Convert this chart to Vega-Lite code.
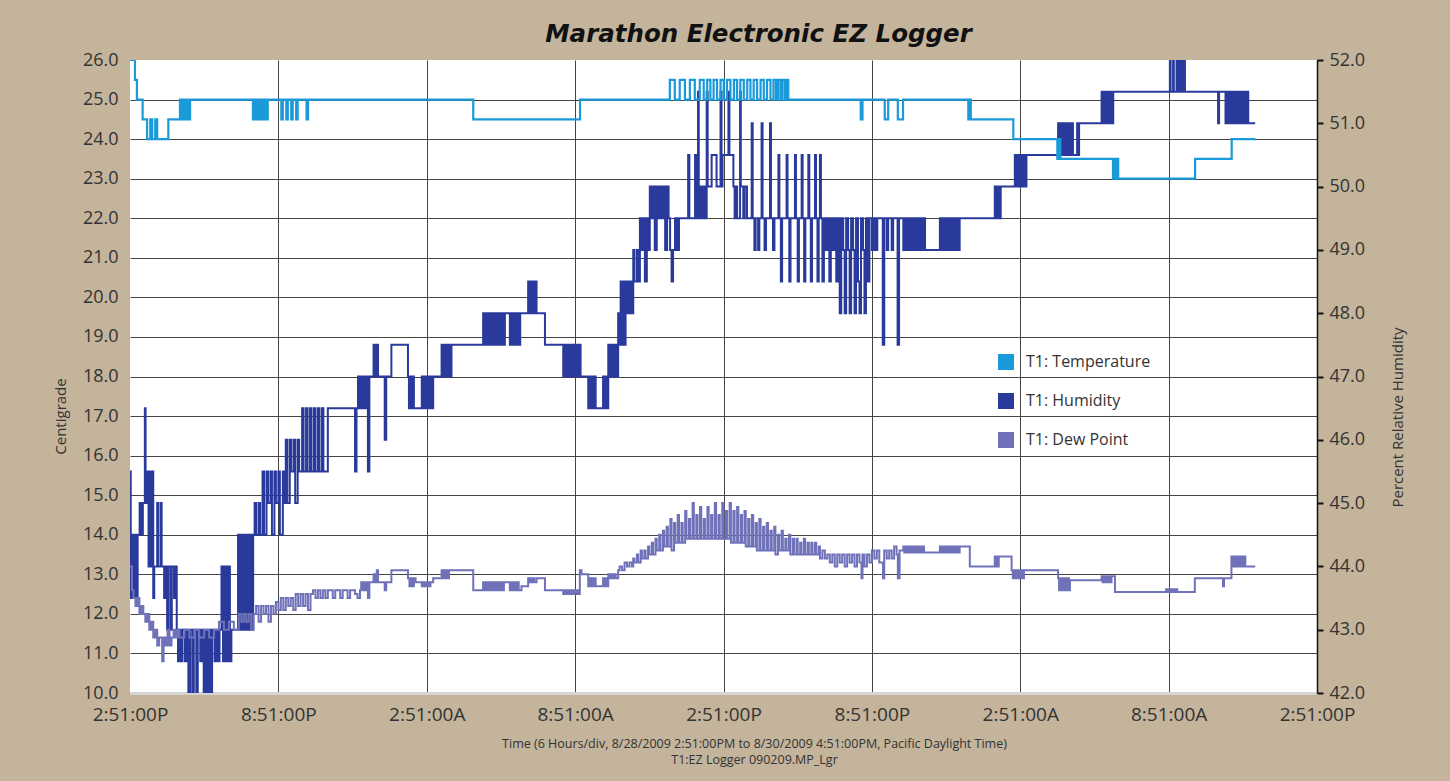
{
"$schema": "https://vega.github.io/schema/vega-lite/v6.json",
"width": 1187, "height": 633,
"autosize": {"type": "none"},
"padding": {"left": 130, "top": 60, "right": 133, "bottom": 88},
"background": "#C3B49B",
"config": {
  "view": {"fill": "white", "stroke": null},
  "font": "Open Sans",
  "axis": {"labelFont": "Open Sans", "titleFont": "Open Sans", "labelColor": "#333333", "titleColor": "#333333", "titleFontWeight": "normal"}
},
"title": {"text": "Marathon Electronic EZ Logger", "font": "DejaVu Sans", "fontSize": 24.5, "fontWeight": "bold", "fontStyle": "italic", "color": "#111111", "anchor": "middle", "dx": 35, "offset": 4},
"datasets": {
"temp": [{"h":0,"v":26},{"h":0.2,"v":25.5},{"h":0.28,"v":25},{"h":0.51,"v":24.5},{"h":0.69,"v":24},{"h":0.82,"v":24.5},{"h":0.9,"v":24},{"h":1.02,"v":24.5},{"h":1.1,"v":24},{"h":1.55,"v":24.5},{"h":2.02,"v":25},{"h":2.08,"v":24.5},{"h":2.16,"v":25},{"h":2.24,"v":24.5},{"h":2.32,"v":25},{"h":2.38,"v":24.5},{"h":2.43,"v":25},{"h":4.97,"v":24.5},{"h":5.03,"v":25},{"h":5.11,"v":24.5},{"h":5.17,"v":25},{"h":5.24,"v":24.5},{"h":5.3,"v":25},{"h":5.38,"v":24.5},{"h":5.44,"v":25},{"h":5.51,"v":24.5},{"h":5.57,"v":25},{"h":6.12,"v":24.5},{"h":6.18,"v":25},{"h":6.32,"v":24.5},{"h":6.38,"v":25},{"h":6.52,"v":24.5},{"h":6.58,"v":25},{"h":6.72,"v":24.5},{"h":6.78,"v":25},{"h":7.14,"v":24.5},{"h":7.2,"v":25},{"h":13.88,"v":24.5},{"h":18.2,"v":25},{"h":21.83,"v":25.5},{"h":22.03,"v":25},{"h":22.23,"v":25.5},{"h":22.44,"v":25},{"h":22.64,"v":25.5},{"h":22.84,"v":25},{"h":23.04,"v":25.5},{"h":23.2,"v":25},{"h":23.34,"v":25.5},{"h":23.47,"v":25},{"h":23.6,"v":25.5},{"h":23.74,"v":25},{"h":23.88,"v":25.5},{"h":24.01,"v":25},{"h":24.14,"v":25.5},{"h":24.28,"v":25},{"h":24.42,"v":25.5},{"h":24.55,"v":25},{"h":24.68,"v":25.5},{"h":24.82,"v":25},{"h":24.96,"v":25.5},{"h":25.09,"v":25},{"h":25.22,"v":25.5},{"h":25.36,"v":25},{"h":25.5,"v":25.5},{"h":25.63,"v":25},{"h":25.76,"v":25.5},{"h":25.9,"v":25},{"h":26.02,"v":25.5},{"h":26.12,"v":25},{"h":26.2,"v":25.5},{"h":26.3,"v":25},{"h":26.38,"v":25.5},{"h":26.48,"v":25},{"h":26.54,"v":25.5},{"h":26.62,"v":25},{"h":29.55,"v":24.5},{"h":29.62,"v":25},{"h":30.52,"v":24.5},{"h":30.66,"v":25},{"h":31.05,"v":24.5},{"h":31.26,"v":25},{"h":33.9,"v":24.5},{"h":33.95,"v":25},{"h":34.0,"v":24.5},{"h":35.72,"v":24},{"h":37.5,"v":23.5},{"h":37.56,"v":24},{"h":37.62,"v":23.5},{"h":39.75,"v":23},{"h":39.8,"v":23.5},{"h":39.86,"v":23},{"h":39.92,"v":23.5},{"h":39.96,"v":23},{"h":43.07,"v":23.5},{"h":44.55,"v":24},{"h":45.5,"v":24}],
"hum": [{"h":0,"v":45.5},{"h":0.03,"v":43.5},{"h":0.07,"v":44.5},{"h":0.11,"v":43.5},{"h":0.15,"v":44.5},{"h":0.19,"v":43.5},{"h":0.23,"v":44.5},{"h":0.27,"v":43.5},{"h":0.31,"v":44.5},{"h":0.39,"v":45},{"h":0.45,"v":44.5},{"h":0.52,"v":45},{"h":0.6,"v":46.5},{"h":0.63,"v":45},{"h":0.7,"v":45.5},{"h":0.75,"v":44},{"h":0.79,"v":45.5},{"h":0.83,"v":44},{"h":0.88,"v":45.5},{"h":0.94,"v":43.5},{"h":0.98,"v":44},{"h":1.1,"v":45},{"h":1.14,"v":44},{"h":1.24,"v":45},{"h":1.28,"v":44},{"h":1.38,"v":43.5},{"h":1.42,"v":44},{"h":1.5,"v":43},{"h":1.55,"v":44},{"h":1.64,"v":43},{"h":1.69,"v":44},{"h":1.78,"v":43.5},{"h":1.82,"v":44},{"h":1.89,"v":43},{"h":1.94,"v":42.5},{"h":1.99,"v":43},{"h":2.06,"v":42.5},{"h":2.12,"v":43},{"h":2.22,"v":42.5},{"h":2.28,"v":43},{"h":2.36,"v":42},{"h":2.43,"v":43},{"h":2.52,"v":42},{"h":2.58,"v":43},{"h":2.68,"v":42},{"h":2.74,"v":43},{"h":2.84,"v":42.5},{"h":2.9,"v":43},{"h":2.98,"v":42},{"h":3.04,"v":43},{"h":3.12,"v":42},{"h":3.18,"v":43},{"h":3.26,"v":42},{"h":3.32,"v":43},{"h":3.42,"v":42.5},{"h":3.48,"v":43},{"h":3.56,"v":42.5},{"h":3.62,"v":43},{"h":3.7,"v":44},{"h":3.76,"v":42.5},{"h":3.84,"v":44},{"h":3.9,"v":42.5},{"h":3.98,"v":44},{"h":4.04,"v":42.5},{"h":4.1,"v":43},{"h":4.37,"v":44.5},{"h":4.42,"v":43},{"h":4.5,"v":44.5},{"h":4.55,"v":43},{"h":4.63,"v":44.5},{"h":4.68,"v":43},{"h":4.76,"v":44.5},{"h":4.81,"v":43},{"h":4.89,"v":44.5},{"h":4.94,"v":43},{"h":4.98,"v":44.5},{"h":5.04,"v":45},{"h":5.1,"v":44.5},{"h":5.2,"v":45},{"h":5.26,"v":44.5},{"h":5.36,"v":45.5},{"h":5.42,"v":44.5},{"h":5.52,"v":45.5},{"h":5.58,"v":45},{"h":5.68,"v":45.5},{"h":5.74,"v":44.5},{"h":5.84,"v":45.5},{"h":5.9,"v":45},{"h":6.0,"v":45.5},{"h":6.06,"v":44.5},{"h":6.18,"v":45.5},{"h":6.24,"v":45},{"h":6.3,"v":46},{"h":6.36,"v":45},{"h":6.46,"v":46},{"h":6.52,"v":45.5},{"h":6.62,"v":46},{"h":6.68,"v":45},{"h":6.78,"v":46},{"h":6.84,"v":45.5},{"h":6.96,"v":46.5},{"h":7.02,"v":45.5},{"h":7.12,"v":46.5},{"h":7.18,"v":45.5},{"h":7.28,"v":46.5},{"h":7.34,"v":45.5},{"h":7.44,"v":46.5},{"h":7.5,"v":45.5},{"h":7.6,"v":46.5},{"h":7.66,"v":45.5},{"h":7.76,"v":46.5},{"h":7.82,"v":45.5},{"h":8.0,"v":46.5},{"h":9.1,"v":45.5},{"h":9.16,"v":46.5},{"h":9.22,"v":47},{"h":9.27,"v":46.5},{"h":9.33,"v":47},{"h":9.38,"v":46.5},{"h":9.44,"v":47},{"h":9.5,"v":46.5},{"h":9.56,"v":47},{"h":9.62,"v":45.5},{"h":9.68,"v":47},{"h":9.85,"v":47.5},{"h":9.9,"v":47},{"h":9.98,"v":47.5},{"h":10.03,"v":47},{"h":10.3,"v":46},{"h":10.36,"v":47},{"h":10.57,"v":47.5},{"h":11.24,"v":47},{"h":11.28,"v":46.5},{"h":11.33,"v":47},{"h":11.38,"v":46.5},{"h":11.43,"v":47},{"h":11.48,"v":46.5},{"h":11.8,"v":47},{"h":11.85,"v":46.5},{"h":11.9,"v":47},{"h":11.96,"v":46.5},{"h":12.02,"v":47},{"h":12.08,"v":46.5},{"h":12.14,"v":47},{"h":12.2,"v":46.5},{"h":12.26,"v":47},{"h":12.6,"v":47.5},{"h":12.65,"v":47},{"h":12.7,"v":47.5},{"h":12.75,"v":47},{"h":12.8,"v":47.5},{"h":12.85,"v":47},{"h":12.9,"v":47.5},{"h":12.95,"v":47},{"h":13.0,"v":47.5},{"h":14.28,"v":48},{"h":14.34,"v":47.5},{"h":14.4,"v":48},{"h":14.46,"v":47.5},{"h":14.52,"v":48},{"h":14.58,"v":47.5},{"h":14.64,"v":48},{"h":14.7,"v":47.5},{"h":14.76,"v":48},{"h":14.82,"v":47.5},{"h":14.88,"v":48},{"h":14.94,"v":47.5},{"h":15.0,"v":48},{"h":15.04,"v":47.5},{"h":15.08,"v":48},{"h":15.12,"v":47.5},{"h":15.16,"v":48},{"h":15.36,"v":47.5},{"h":15.42,"v":48},{"h":15.48,"v":47.5},{"h":15.54,"v":48},{"h":15.6,"v":47.5},{"h":15.66,"v":48},{"h":15.72,"v":47.5},{"h":15.78,"v":48},{"h":16.1,"v":48.5},{"h":16.15,"v":48},{"h":16.2,"v":48.5},{"h":16.25,"v":48},{"h":16.3,"v":48.5},{"h":16.35,"v":48},{"h":16.4,"v":48.5},{"h":16.44,"v":48},{"h":16.78,"v":47.5},{"h":17.52,"v":47},{"h":17.57,"v":47.5},{"h":17.62,"v":47},{"h":17.67,"v":47.5},{"h":17.72,"v":47},{"h":17.77,"v":47.5},{"h":17.82,"v":47},{"h":17.87,"v":47.5},{"h":17.92,"v":47},{"h":17.97,"v":47.5},{"h":18.02,"v":47},{"h":18.07,"v":47.5},{"h":18.12,"v":47},{"h":18.17,"v":47.5},{"h":18.22,"v":47},{"h":18.53,"v":46.5},{"h":18.58,"v":47},{"h":18.63,"v":46.5},{"h":18.68,"v":47},{"h":18.73,"v":46.5},{"h":18.78,"v":47},{"h":18.83,"v":46.5},{"h":19.13,"v":47},{"h":19.18,"v":46.5},{"h":19.23,"v":47},{"h":19.28,"v":46.5},{"h":19.34,"v":47.5},{"h":19.39,"v":47},{"h":19.44,"v":47.5},{"h":19.49,"v":47},{"h":19.54,"v":47.5},{"h":19.59,"v":47},{"h":19.64,"v":47.5},{"h":19.69,"v":47},{"h":19.74,"v":48},{"h":19.79,"v":47.5},{"h":19.84,"v":48.5},{"h":19.89,"v":47.5},{"h":19.94,"v":48.5},{"h":19.99,"v":47.5},{"h":20.04,"v":48.5},{"h":20.09,"v":48},{"h":20.14,"v":48.5},{"h":20.19,"v":48},{"h":20.24,"v":48.5},{"h":20.28,"v":48},{"h":20.35,"v":49},{"h":20.4,"v":48.5},{"h":20.5,"v":49},{"h":20.55,"v":48.5},{"h":20.62,"v":49.5},{"h":20.68,"v":49},{"h":20.76,"v":49.5},{"h":20.82,"v":48.5},{"h":20.9,"v":49.5},{"h":20.96,"v":49},{"h":21.02,"v":50},{"h":21.08,"v":49.5},{"h":21.16,"v":50},{"h":21.22,"v":49},{"h":21.3,"v":50},{"h":21.36,"v":49.5},{"h":21.44,"v":50},{"h":21.5,"v":49.5},{"h":21.58,"v":50},{"h":21.64,"v":49},{"h":21.72,"v":50},{"h":21.78,"v":49.5},{"h":21.84,"v":49},{"h":21.9,"v":48.5},{"h":21.96,"v":49},{"h":22.04,"v":49.5},{"h":22.12,"v":49},{"h":22.2,"v":49.5},{"h":22.57,"v":50.5},{"h":22.62,"v":49.5},{"h":22.85,"v":50.5},{"h":22.9,"v":49.5},{"h":22.97,"v":51.5},{"h":23.0,"v":50},{"h":23.05,"v":49.5},{"h":23.1,"v":50},{"h":23.15,"v":49.5},{"h":23.2,"v":50},{"h":23.25,"v":49.5},{"h":23.32,"v":51.5},{"h":23.36,"v":50},{"h":23.52,"v":50.5},{"h":23.72,"v":50},{"h":23.88,"v":51.5},{"h":23.92,"v":50},{"h":23.96,"v":50.5},{"h":24.2,"v":51.5},{"h":24.24,"v":50.5},{"h":24.4,"v":50},{"h":24.45,"v":49.5},{"h":24.5,"v":50},{"h":24.55,"v":49.5},{"h":24.67,"v":51.5},{"h":24.7,"v":50},{"h":24.8,"v":49.5},{"h":24.86,"v":50},{"h":24.95,"v":49.5},{"h":25.14,"v":51},{"h":25.18,"v":49.5},{"h":25.25,"v":49},{"h":25.3,"v":49.5},{"h":25.4,"v":49},{"h":25.45,"v":49.5},{"h":25.54,"v":51},{"h":25.58,"v":49.5},{"h":25.66,"v":49},{"h":25.72,"v":49.5},{"h":25.88,"v":51},{"h":25.92,"v":49.5},{"h":26.0,"v":49},{"h":26.06,"v":49.5},{"h":26.22,"v":50.5},{"h":26.26,"v":49.5},{"h":26.32,"v":48.5},{"h":26.37,"v":49.5},{"h":26.55,"v":50.5},{"h":26.59,"v":49.5},{"h":26.66,"v":48.5},{"h":26.71,"v":49.5},{"h":26.89,"v":50.5},{"h":26.93,"v":49.5},{"h":27.0,"v":48.5},{"h":27.05,"v":49.5},{"h":27.16,"v":50.5},{"h":27.2,"v":49.5},{"h":27.26,"v":48.5},{"h":27.31,"v":49.5},{"h":27.43,"v":50.5},{"h":27.47,"v":49.5},{"h":27.53,"v":48.5},{"h":27.58,"v":49.5},{"h":27.7,"v":50.5},{"h":27.74,"v":49.5},{"h":27.8,"v":48.5},{"h":27.85,"v":49.5},{"h":27.9,"v":50.5},{"h":27.94,"v":49.5},{"h":28.0,"v":48.5},{"h":28.06,"v":49.5},{"h":28.14,"v":49},{"h":28.2,"v":49.5},{"h":28.28,"v":48.5},{"h":28.34,"v":49.5},{"h":28.42,"v":49},{"h":28.48,"v":49.5},{"h":28.56,"v":48.5},{"h":28.62,"v":49.5},{"h":28.7,"v":48},{"h":28.76,"v":49.5},{"h":28.84,"v":49},{"h":28.9,"v":48},{"h":28.96,"v":49.5},{"h":29.04,"v":49},{"h":29.1,"v":48},{"h":29.16,"v":49.5},{"h":29.24,"v":49},{"h":29.3,"v":48},{"h":29.36,"v":49.5},{"h":29.44,"v":48.5},{"h":29.5,"v":48},{"h":29.56,"v":49.5},{"h":29.64,"v":49},{"h":29.7,"v":48},{"h":29.76,"v":49.5},{"h":29.84,"v":48.5},{"h":29.9,"v":49.5},{"h":30.0,"v":49},{"h":30.06,"v":49.5},{"h":30.14,"v":49},{"h":30.22,"v":49.5},{"h":30.44,"v":47.5},{"h":30.5,"v":49.5},{"h":30.6,"v":49},{"h":30.66,"v":49.5},{"h":30.8,"v":49},{"h":30.86,"v":49.5},{"h":31.04,"v":47.5},{"h":31.1,"v":49.5},{"h":31.27,"v":49},{"h":31.31,"v":49.5},{"h":31.35,"v":49},{"h":31.39,"v":49.5},{"h":31.43,"v":49},{"h":31.47,"v":49.5},{"h":31.51,"v":49},{"h":31.55,"v":49.5},{"h":31.59,"v":49},{"h":31.63,"v":49.5},{"h":31.67,"v":49},{"h":31.71,"v":49.5},{"h":31.75,"v":49},{"h":31.79,"v":49.5},{"h":31.83,"v":49},{"h":31.87,"v":49.5},{"h":31.91,"v":49},{"h":31.95,"v":49.5},{"h":31.99,"v":49},{"h":32.03,"v":49.5},{"h":32.07,"v":49},{"h":32.11,"v":49.5},{"h":32.15,"v":49},{"h":32.75,"v":49.5},{"h":32.8,"v":49},{"h":32.85,"v":49.5},{"h":32.9,"v":49},{"h":32.95,"v":49.5},{"h":33.0,"v":49},{"h":33.05,"v":49.5},{"h":33.1,"v":49},{"h":33.15,"v":49.5},{"h":33.2,"v":49},{"h":33.25,"v":49.5},{"h":33.3,"v":49},{"h":33.35,"v":49.5},{"h":33.4,"v":49},{"h":33.45,"v":49.5},{"h":33.5,"v":49},{"h":33.55,"v":49.5},{"h":34.97,"v":50},{"h":35.01,"v":49.5},{"h":35.05,"v":50},{"h":35.09,"v":49.5},{"h":35.13,"v":50},{"h":35.17,"v":49.5},{"h":35.21,"v":50},{"h":35.78,"v":50.5},{"h":35.82,"v":50},{"h":35.86,"v":50.5},{"h":35.9,"v":50},{"h":35.94,"v":50.5},{"h":35.98,"v":50},{"h":36.02,"v":50.5},{"h":36.06,"v":50},{"h":36.1,"v":50.5},{"h":36.14,"v":50},{"h":36.18,"v":50.5},{"h":36.22,"v":50},{"h":36.25,"v":50.5},{"h":37.53,"v":51},{"h":37.57,"v":50.5},{"h":37.61,"v":51},{"h":37.65,"v":50.5},{"h":37.69,"v":51},{"h":37.73,"v":50.5},{"h":37.77,"v":51},{"h":37.81,"v":50.5},{"h":37.85,"v":51},{"h":37.89,"v":50.5},{"h":37.93,"v":51},{"h":37.97,"v":50.5},{"h":38.01,"v":51},{"h":38.05,"v":50.5},{"h":38.09,"v":51},{"h":38.13,"v":50.5},{"h":38.3,"v":51},{"h":38.34,"v":50.5},{"h":38.38,"v":51},{"h":39.29,"v":51.5},{"h":39.33,"v":51},{"h":39.37,"v":51.5},{"h":39.41,"v":51},{"h":39.45,"v":51.5},{"h":39.49,"v":51},{"h":39.53,"v":51.5},{"h":39.57,"v":51},{"h":39.61,"v":51.5},{"h":39.65,"v":51},{"h":39.69,"v":51.5},{"h":39.73,"v":51},{"h":39.76,"v":51.5},{"h":42.05,"v":52},{"h":42.08,"v":51.5},{"h":42.18,"v":52},{"h":42.21,"v":51.5},{"h":42.32,"v":52},{"h":42.36,"v":51.5},{"h":42.4,"v":52},{"h":42.44,"v":51.5},{"h":42.48,"v":52},{"h":42.52,"v":51.5},{"h":42.56,"v":52},{"h":42.6,"v":51.5},{"h":42.64,"v":52},{"h":42.66,"v":51.5},{"h":44.0,"v":51},{"h":44.04,"v":51.5},{"h":44.3,"v":51},{"h":44.34,"v":51.5},{"h":44.38,"v":51},{"h":44.42,"v":51.5},{"h":44.46,"v":51},{"h":44.5,"v":51.5},{"h":44.54,"v":51},{"h":44.58,"v":51.5},{"h":44.62,"v":51},{"h":44.66,"v":51.5},{"h":44.7,"v":51},{"h":44.74,"v":51.5},{"h":44.78,"v":51},{"h":44.82,"v":51.5},{"h":44.86,"v":51},{"h":44.9,"v":51.5},{"h":44.94,"v":51},{"h":44.98,"v":51.5},{"h":45.02,"v":51},{"h":45.06,"v":51.5},{"h":45.1,"v":51},{"h":45.14,"v":51.5},{"h":45.22,"v":51},{"h":45.5,"v":51}],
"dew": [{"h":0,"v":13.2},{"h":0.08,"v":12.6},{"h":0.14,"v":12.4},{"h":0.22,"v":12.2},{"h":0.3,"v":12.4},{"h":0.38,"v":12},{"h":0.46,"v":12.2},{"h":0.54,"v":12},{"h":0.62,"v":11.8},{"h":0.7,"v":12},{"h":0.78,"v":11.6},{"h":0.86,"v":11.8},{"h":0.94,"v":11.4},{"h":1.02,"v":11.6},{"h":1.1,"v":11.2},{"h":1.18,"v":11.4},{"h":1.3,"v":10.8},{"h":1.36,"v":11.4},{"h":1.44,"v":11.2},{"h":1.52,"v":11.6},{"h":1.6,"v":11.2},{"h":1.68,"v":11.4},{"h":1.76,"v":11.6},{"h":1.84,"v":11.4},{"h":1.92,"v":11.6},{"h":2.0,"v":11.4},{"h":2.2,"v":11.6},{"h":2.4,"v":11.4},{"h":2.6,"v":11.6},{"h":2.8,"v":11.4},{"h":3.0,"v":11.6},{"h":3.2,"v":11.4},{"h":3.4,"v":11.6},{"h":3.6,"v":11.8},{"h":3.8,"v":11.6},{"h":4.0,"v":11.8},{"h":4.2,"v":11.6},{"h":4.4,"v":12},{"h":4.5,"v":11.8},{"h":4.6,"v":12},{"h":4.7,"v":11.8},{"h":4.8,"v":12},{"h":4.9,"v":11.6},{"h":5.0,"v":12},{"h":5.1,"v":12.2},{"h":5.2,"v":11.8},{"h":5.3,"v":12.2},{"h":5.4,"v":12},{"h":5.5,"v":12.2},{"h":5.6,"v":11.8},{"h":5.7,"v":12.2},{"h":5.8,"v":12},{"h":5.9,"v":12.3},{"h":6.0,"v":12.1},{"h":6.1,"v":12.4},{"h":6.2,"v":12.1},{"h":6.3,"v":12.4},{"h":6.4,"v":12.2},{"h":6.5,"v":12.4},{"h":6.6,"v":12.1},{"h":6.7,"v":12.5},{"h":6.8,"v":12.2},{"h":6.9,"v":12.5},{"h":7.0,"v":12.2},{"h":7.1,"v":12.5},{"h":7.2,"v":12.1},{"h":7.3,"v":12.5},{"h":7.4,"v":12.6},{"h":7.5,"v":12.4},{"h":7.6,"v":12.6},{"h":7.7,"v":12.4},{"h":7.8,"v":12.6},{"h":7.9,"v":12.4},{"h":8.0,"v":12.6},{"h":8.2,"v":12.4},{"h":8.3,"v":12.6},{"h":8.5,"v":12.4},{"h":8.6,"v":12.6},{"h":8.8,"v":12.4},{"h":8.9,"v":12.6},{"h":9.1,"v":12.5},{"h":9.2,"v":12.4},{"h":9.3,"v":12.6},{"h":9.35,"v":12.8},{"h":9.4,"v":12.6},{"h":9.45,"v":12.8},{"h":9.5,"v":12.6},{"h":9.55,"v":12.8},{"h":9.62,"v":12.4},{"h":9.68,"v":12.8},{"h":9.85,"v":13},{"h":9.9,"v":12.8},{"h":9.98,"v":13.1},{"h":10.03,"v":12.8},{"h":10.3,"v":12.6},{"h":10.36,"v":12.8},{"h":10.57,"v":13.1},{"h":11.24,"v":12.9},{"h":11.3,"v":12.7},{"h":11.36,"v":12.9},{"h":11.42,"v":12.7},{"h":11.48,"v":12.9},{"h":11.55,"v":12.8},{"h":11.8,"v":12.7},{"h":11.85,"v":12.8},{"h":11.9,"v":12.7},{"h":11.95,"v":12.8},{"h":12.0,"v":12.7},{"h":12.05,"v":12.8},{"h":12.1,"v":12.7},{"h":12.15,"v":12.8},{"h":12.26,"v":12.9},{"h":12.6,"v":13.1},{"h":12.65,"v":12.9},{"h":12.7,"v":13.1},{"h":12.75,"v":12.9},{"h":12.8,"v":13.1},{"h":12.85,"v":12.9},{"h":12.9,"v":13.1},{"h":13.88,"v":12.6},{"h":14.28,"v":12.8},{"h":14.34,"v":12.6},{"h":14.4,"v":12.8},{"h":14.46,"v":12.6},{"h":14.52,"v":12.8},{"h":14.58,"v":12.6},{"h":14.64,"v":12.8},{"h":14.7,"v":12.6},{"h":14.76,"v":12.8},{"h":14.82,"v":12.6},{"h":14.88,"v":12.8},{"h":14.94,"v":12.6},{"h":15.0,"v":12.8},{"h":15.06,"v":12.6},{"h":15.12,"v":12.8},{"h":15.36,"v":12.6},{"h":15.42,"v":12.8},{"h":15.48,"v":12.6},{"h":15.54,"v":12.8},{"h":15.6,"v":12.6},{"h":15.66,"v":12.8},{"h":15.72,"v":12.6},{"h":15.83,"v":12.7},{"h":16.1,"v":12.9},{"h":16.15,"v":12.8},{"h":16.2,"v":12.9},{"h":16.25,"v":12.8},{"h":16.3,"v":12.9},{"h":16.35,"v":12.8},{"h":16.44,"v":12.9},{"h":16.78,"v":12.6},{"h":17.52,"v":12.5},{"h":17.57,"v":12.6},{"h":17.62,"v":12.5},{"h":17.67,"v":12.6},{"h":17.72,"v":12.5},{"h":17.77,"v":12.6},{"h":17.82,"v":12.5},{"h":17.87,"v":12.6},{"h":17.92,"v":12.5},{"h":17.97,"v":12.6},{"h":18.02,"v":12.5},{"h":18.07,"v":12.6},{"h":18.12,"v":12.5},{"h":18.19,"v":13.1},{"h":18.26,"v":13},{"h":18.53,"v":12.7},{"h":18.58,"v":12.9},{"h":18.63,"v":12.7},{"h":18.68,"v":12.9},{"h":18.73,"v":12.7},{"h":18.78,"v":12.9},{"h":18.83,"v":12.7},{"h":19.13,"v":12.9},{"h":19.18,"v":12.7},{"h":19.23,"v":12.9},{"h":19.28,"v":12.7},{"h":19.34,"v":13},{"h":19.4,"v":12.9},{"h":19.46,"v":13},{"h":19.52,"v":12.9},{"h":19.58,"v":13},{"h":19.64,"v":12.9},{"h":19.74,"v":13.1},{"h":19.8,"v":13.2},{"h":19.9,"v":13.1},{"h":20.0,"v":13.3},{"h":20.1,"v":13.2},{"h":20.2,"v":13.3},{"h":20.3,"v":13.2},{"h":20.35,"v":13.4},{"h":20.4,"v":13.3},{"h":20.5,"v":13.5},{"h":20.55,"v":13.3},{"h":20.65,"v":13.6},{"h":20.7,"v":13.4},{"h":20.8,"v":13.6},{"h":20.85,"v":13.4},{"h":20.95,"v":13.7},{"h":21.0,"v":13.5},{"h":21.1,"v":13.8},{"h":21.15,"v":13.5},{"h":21.25,"v":13.9},{"h":21.3,"v":13.6},{"h":21.4,"v":14},{"h":21.45,"v":13.6},{"h":21.55,"v":14.1},{"h":21.6,"v":13.7},{"h":21.7,"v":14.2},{"h":21.75,"v":13.7},{"h":21.85,"v":14.4},{"h":21.9,"v":13.6},{"h":22.0,"v":14.3},{"h":22.05,"v":13.8},{"h":22.15,"v":14.5},{"h":22.2,"v":13.8},{"h":22.3,"v":14.3},{"h":22.35,"v":13.8},{"h":22.45,"v":14.6},{"h":22.5,"v":13.9},{"h":22.6,"v":14.4},{"h":22.65,"v":13.9},{"h":22.75,"v":14.8},{"h":22.8,"v":13.9},{"h":22.9,"v":14.5},{"h":22.95,"v":13.9},{"h":23.05,"v":14.7},{"h":23.1,"v":13.9},{"h":23.2,"v":14.4},{"h":23.25,"v":13.9},{"h":23.35,"v":14.7},{"h":23.4,"v":13.9},{"h":23.5,"v":14.5},{"h":23.55,"v":13.9},{"h":23.65,"v":14.8},{"h":23.7,"v":13.9},{"h":23.8,"v":14.5},{"h":23.85,"v":13.9},{"h":23.95,"v":14.8},{"h":24.0,"v":13.9},{"h":24.1,"v":14.6},{"h":24.15,"v":13.9},{"h":24.25,"v":14.8},{"h":24.3,"v":13.8},{"h":24.4,"v":14.6},{"h":24.45,"v":13.8},{"h":24.55,"v":14.7},{"h":24.6,"v":13.8},{"h":24.7,"v":14.5},{"h":24.75,"v":13.8},{"h":24.85,"v":14.6},{"h":24.9,"v":13.7},{"h":25.0,"v":14.4},{"h":25.05,"v":13.7},{"h":25.15,"v":14.5},{"h":25.2,"v":13.7},{"h":25.3,"v":14.3},{"h":25.35,"v":13.6},{"h":25.45,"v":14.4},{"h":25.5,"v":13.6},{"h":25.6,"v":14.2},{"h":25.65,"v":13.6},{"h":25.75,"v":14.3},{"h":25.8,"v":13.6},{"h":25.9,"v":14.1},{"h":25.95,"v":13.6},{"h":26.05,"v":14.2},{"h":26.1,"v":13.5},{"h":26.2,"v":14},{"h":26.25,"v":13.6},{"h":26.35,"v":14.1},{"h":26.4,"v":13.6},{"h":26.5,"v":13.9},{"h":26.55,"v":13.6},{"h":26.65,"v":14},{"h":26.7,"v":13.5},{"h":26.8,"v":13.9},{"h":26.85,"v":13.5},{"h":26.95,"v":13.9},{"h":27.0,"v":13.5},{"h":27.1,"v":13.8},{"h":27.15,"v":13.5},{"h":27.25,"v":13.9},{"h":27.3,"v":13.5},{"h":27.4,"v":13.8},{"h":27.45,"v":13.5},{"h":27.55,"v":13.8},{"h":27.6,"v":13.5},{"h":27.7,"v":13.8},{"h":27.75,"v":13.5},{"h":27.85,"v":13.7},{"h":27.9,"v":13.4},{"h":28.0,"v":13.6},{"h":28.1,"v":13.4},{"h":28.2,"v":13.5},{"h":28.3,"v":13.3},{"h":28.4,"v":13.5},{"h":28.5,"v":13.2},{"h":28.6,"v":13.5},{"h":28.7,"v":13.3},{"h":28.8,"v":13.5},{"h":28.9,"v":13.2},{"h":29.0,"v":13.5},{"h":29.1,"v":13.3},{"h":29.2,"v":13.5},{"h":29.3,"v":13.2},{"h":29.4,"v":13.5},{"h":29.5,"v":13.3},{"h":29.58,"v":12.9},{"h":29.62,"v":13.5},{"h":29.7,"v":13.2},{"h":29.8,"v":13.5},{"h":29.9,"v":13.3},{"h":30.0,"v":13.6},{"h":30.1,"v":13.4},{"h":30.2,"v":13.6},{"h":30.3,"v":13.3},{"h":30.45,"v":12.9},{"h":30.5,"v":13.6},{"h":30.6,"v":13.4},{"h":30.7,"v":13.6},{"h":30.8,"v":13.4},{"h":30.9,"v":13.7},{"h":31.0,"v":13.5},{"h":31.05,"v":12.9},{"h":31.12,"v":13.6},{"h":31.27,"v":13.7},{"h":31.31,"v":13.55},{"h":31.35,"v":13.7},{"h":31.39,"v":13.55},{"h":31.43,"v":13.7},{"h":31.47,"v":13.55},{"h":31.51,"v":13.7},{"h":31.55,"v":13.55},{"h":31.59,"v":13.7},{"h":31.63,"v":13.55},{"h":31.67,"v":13.7},{"h":31.71,"v":13.55},{"h":31.75,"v":13.7},{"h":31.79,"v":13.55},{"h":31.83,"v":13.7},{"h":31.87,"v":13.55},{"h":31.91,"v":13.7},{"h":31.95,"v":13.55},{"h":31.99,"v":13.7},{"h":32.03,"v":13.55},{"h":32.07,"v":13.7},{"h":32.11,"v":13.55},{"h":32.75,"v":13.7},{"h":32.8,"v":13.55},{"h":32.85,"v":13.7},{"h":32.9,"v":13.55},{"h":32.95,"v":13.7},{"h":33.0,"v":13.55},{"h":33.05,"v":13.7},{"h":33.1,"v":13.55},{"h":33.15,"v":13.7},{"h":33.2,"v":13.55},{"h":33.25,"v":13.7},{"h":33.3,"v":13.55},{"h":33.35,"v":13.7},{"h":33.4,"v":13.55},{"h":33.45,"v":13.7},{"h":33.5,"v":13.55},{"h":33.55,"v":13.7},{"h":33.96,"v":13.2},{"h":34.97,"v":13.45},{"h":35.01,"v":13.2},{"h":35.05,"v":13.45},{"h":35.09,"v":13.2},{"h":35.13,"v":13.45},{"h":35.65,"v":13.1},{"h":35.7,"v":12.9},{"h":35.75,"v":13.1},{"h":35.8,"v":12.9},{"h":35.85,"v":13.1},{"h":35.9,"v":12.9},{"h":35.95,"v":13.1},{"h":36.0,"v":12.9},{"h":36.05,"v":13.1},{"h":36.1,"v":12.9},{"h":36.15,"v":13.1},{"h":37.53,"v":12.9},{"h":37.57,"v":12.6},{"h":37.61,"v":12.9},{"h":37.65,"v":12.6},{"h":37.69,"v":12.9},{"h":37.73,"v":12.6},{"h":37.77,"v":12.9},{"h":37.81,"v":12.6},{"h":37.85,"v":12.9},{"h":37.89,"v":12.6},{"h":37.93,"v":12.9},{"h":37.97,"v":12.6},{"h":38.01,"v":12.85},{"h":39.29,"v":12.95},{"h":39.33,"v":12.8},{"h":39.37,"v":12.95},{"h":39.41,"v":12.8},{"h":39.45,"v":12.95},{"h":39.49,"v":12.8},{"h":39.53,"v":12.95},{"h":39.57,"v":12.8},{"h":39.61,"v":12.95},{"h":39.65,"v":12.8},{"h":39.69,"v":12.95},{"h":39.83,"v":12.55},{"h":41.9,"v":12.62},{"h":41.95,"v":12.55},{"h":42.0,"v":12.62},{"h":42.05,"v":12.55},{"h":42.1,"v":12.62},{"h":42.15,"v":12.55},{"h":42.2,"v":12.62},{"h":42.25,"v":12.55},{"h":42.3,"v":12.62},{"h":42.35,"v":12.55},{"h":43.06,"v":12.9},{"h":44.2,"v":12.7},{"h":44.24,"v":12.9},{"h":44.54,"v":13.45},{"h":44.58,"v":13.2},{"h":44.62,"v":13.45},{"h":44.66,"v":13.2},{"h":44.7,"v":13.45},{"h":44.74,"v":13.2},{"h":44.78,"v":13.45},{"h":44.82,"v":13.2},{"h":44.86,"v":13.45},{"h":44.9,"v":13.2},{"h":44.94,"v":13.45},{"h":44.98,"v":13.2},{"h":45.02,"v":13.45},{"h":45.1,"v":13.2},{"h":45.5,"v":13.2}]
},
"encoding": {
  "x": {"field": "h", "type": "quantitative",
    "scale": {"domain": [0, 48], "nice": false, "zero": false},
    "axis": {"values": [0, 6, 12, 18, 24, 30, 36, 42, 48],
      "labelExpr": "datum.value % 24 == 0 ? '2:51:00P' : datum.value % 24 == 6 ? '8:51:00P' : datum.value % 24 == 12 ? '2:51:00A' : '8:51:00A'",
      "grid": true, "gridColor": "#444444", "gridWidth": 1,
      "gridOpacity": {"condition": {"test": "datum.value == 0", "value": 0}, "value": 1},
      "ticks": false, "domainColor": "#d4d4d4", "domainWidth": 3,
      "labelFontSize": 19, "labelPadding": 12, "labelFlush": false, "labelOverlap": false,
      "title": ["Time (6 Hours/div, 8/28/2009 2:51:00PM to 8/30/2009 4:51:00PM, Pacific Daylight Time)", "T1:EZ Logger 090209.MP_Lgr"],
      "titleFontSize": 12.5, "titleX": 624, "titleY": 44, "titleBaseline": "top", "titleAlign": "center", "titleLineHeight": 16}}
},
"layer": [
  {
    "data": {"name": "hum"},
    "mark": {"type": "line", "interpolate": "step-after", "strokeWidth": 2, "clip": true},
    "encoding": {
      "y": {"field": "v", "type": "quantitative",
        "scale": {"domain": [42, 52], "nice": false, "zero": false},
        "axis": {"orient": "right", "values": [42, 43, 44, 45, 46, 47, 48, 49, 50, 51, 52], "format": ".1f",
          "grid": false, "ticks": true, "tickSize": 6, "tickWidth": 2, "tickColor": "#111111",
          "domain": true, "domainColor": "#111111", "domainWidth": 1.5,
          "labelFontSize": 18, "labelPadding": 6,
          "title": "Percent Relative Humidity", "titleFontSize": 15, "titleAngle": 270,
          "titleX": 80, "titleY": 357, "titleAlign": "center", "titleBaseline": "middle"}},
      "color": {"datum": "T1: Humidity",
        "scale": {"domain": ["T1: Temperature", "T1: Humidity", "T1: Dew Point"], "range": ["#1B9AD9", "#2A3A9C", "#6F72B9"]},
        "legend": {"orient": "none", "legendX": 868, "legendY": 294, "title": null, "padding": 0,
          "symbolType": "square", "symbolSize": 256, "symbolStrokeWidth": 0,
          "labelFontSize": 16, "labelColor": "#333333", "labelFont": "Open Sans", "rowPadding": 23, "labelOffset": 12,
          "encode": {"symbols": {"update": {"fill": {"scale": "color", "field": "value"}, "fillOpacity": {"value": 1}}}}}}
    }
  },
  {
    "encoding": {
      "y": {"field": "v", "type": "quantitative",
        "scale": {"domain": [10, 26], "nice": false, "zero": false},
        "axis": {"orient": "left", "values": [10, 11, 12, 13, 14, 15, 16, 17, 18, 19, 20, 21, 22, 23, 24, 25, 26], "format": ".1f",
          "grid": true, "gridColor": "#444444", "gridWidth": 1,
          "gridOpacity": {"condition": {"test": "datum.value == 26 || datum.value == 10", "value": 0}, "value": 1},
          "ticks": false, "domain": false, "labelFontSize": 18, "labelPadding": 12,
          "title": "Centigrade", "titleFontSize": 15, "titleAngle": 270,
          "titleX": -70, "titleY": 356, "titleAlign": "center", "titleBaseline": "middle"}}
    },
    "layer": [
      {"data": {"name": "dew"}, "mark": {"type": "line", "interpolate": "step-after", "strokeWidth": 2, "clip": true},
       "encoding": {"color": {"datum": "T1: Dew Point"}}},
      {"data": {"name": "temp"}, "mark": {"type": "line", "interpolate": "step-after", "strokeWidth": 2.2, "clip": true},
       "encoding": {"color": {"datum": "T1: Temperature"}}}
    ]
  }
],
"resolve": {"scale": {"y": "independent"}}
}
